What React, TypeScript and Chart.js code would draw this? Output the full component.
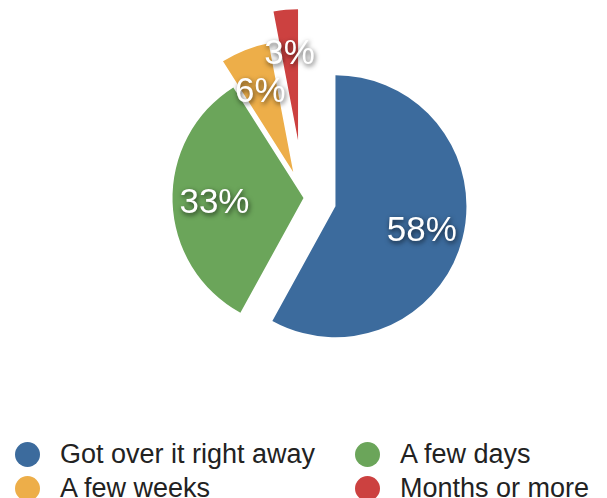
import React, { useEffect, useRef } from "react";
import { Chart, registerables } from "chart.js";

Chart.register(...registerables);

const categories = ["Got over it right away", "A few days", "A few weeks", "Months or more"];
const values = [58, 33, 6, 3];
const colors = ["#3C6B9D", "#6BA55A", "#EDAE49", "#CC4140"];
// pixel displacement of each exploded slice
const explode = [33, 0, 28, 58];

const FONT = '"Liberation Sans", Arial, Helvetica, sans-serif';

export default function App() {
  const ref = useRef<HTMLCanvasElement | null>(null);

  useEffect(() => {
    const canvas = ref.current;
    if (!canvas) return;
    const total = values.reduce((a, b) => a + b, 0);

    // draws every arc element of the library, each moved out along its bisector
    const explodePlugin = {
      id: "explodeSlices",
      beforeDatasetDraw(chart: any, args: any) {
        const ctx = chart.ctx;
        args.meta.data.forEach((arc: any, i: number) => {
          const mid = (arc.startAngle + arc.endAngle) / 2;
          ctx.save();
          ctx.translate(Math.cos(mid) * explode[i], Math.sin(mid) * explode[i]);
          arc.draw(ctx, chart.chartArea);
          ctx.restore();
        });
        return false;
      },
    };

    const labelPlugin = {
      id: "sliceLabels",
      afterDatasetsDraw(chart: any) {
        const ctx = chart.ctx;
        const meta = chart.getDatasetMeta(0);
        ctx.save();
        ctx.font = `35px ${FONT}`;
        ctx.textAlign = "center";
        ctx.textBaseline = "middle";
        ctx.fillStyle = "#ffffff";
        ctx.shadowColor = "rgba(0,0,0,0.7)";
        ctx.shadowBlur = 5;
        ctx.shadowOffsetX = 1;
        ctx.shadowOffsetY = 2;
        meta.data.forEach((arc: any, i: number) => {
          const p = arc.getProps(["x", "y", "startAngle", "endAngle", "outerRadius"], true);
          const mid = (p.startAngle + p.endAngle) / 2;
          const r = explode[i] + 0.68 * p.outerRadius;
          const txt = Math.round((values[i] / total) * 100) + "%";
          ctx.fillText(txt, p.x + Math.cos(mid) * r, p.y + Math.sin(mid) * r + 3);
        });
        ctx.restore();
      },
    };

    const chart = new Chart(canvas, {
      type: "pie",
      data: {
        labels: categories,
        datasets: [
          {
            data: values,
            backgroundColor: colors,
            borderWidth: 0,
            radius: 131,
          } as any,
        ],
      },
      options: {
        animation: false,
        responsive: true,
        maintainAspectRatio: false,
        layout: { padding: 0 },
        plugins: {
          legend: { display: false },
          tooltip: { enabled: false },
        },
      },
      plugins: [explodePlugin, labelPlugin],
    });
    return () => chart.destroy();
  }, []);

  const legendPos = [
    { left: 0, top: 0 },
    { left: 340, top: 0 },
    { left: 0, top: 34 },
    { left: 340, top: 34 },
  ];

  return (
    <div
      style={{
        position: "fixed",
        left: 0,
        top: 0,
        width: 607,
        height: 498,
        overflow: "hidden",
        background: "#fff",
      }}
    >
      <div style={{ position: "absolute", left: 0, top: 0, width: 607, height: 396 }}>
        <canvas ref={ref} />
      </div>
      {categories.map((c, i) => (
        <div
          key={c}
          style={{
            position: "absolute",
            left: 15 + legendPos[i].left,
            top: 437 + legendPos[i].top,
            height: 34,
            display: "flex",
            alignItems: "center",
            whiteSpace: "nowrap",
            fontFamily: FONT,
            fontSize: 27,
            color: "#222",
            lineHeight: "34px",
          }}
        >
          <span
            style={{
              display: "inline-block",
              width: 25,
              height: 25,
              borderRadius: "50%",
              background: colors[i],
              marginRight: 20,
            }}
          />
          <span>{c}</span>
        </div>
      ))}
    </div>
  );
}
